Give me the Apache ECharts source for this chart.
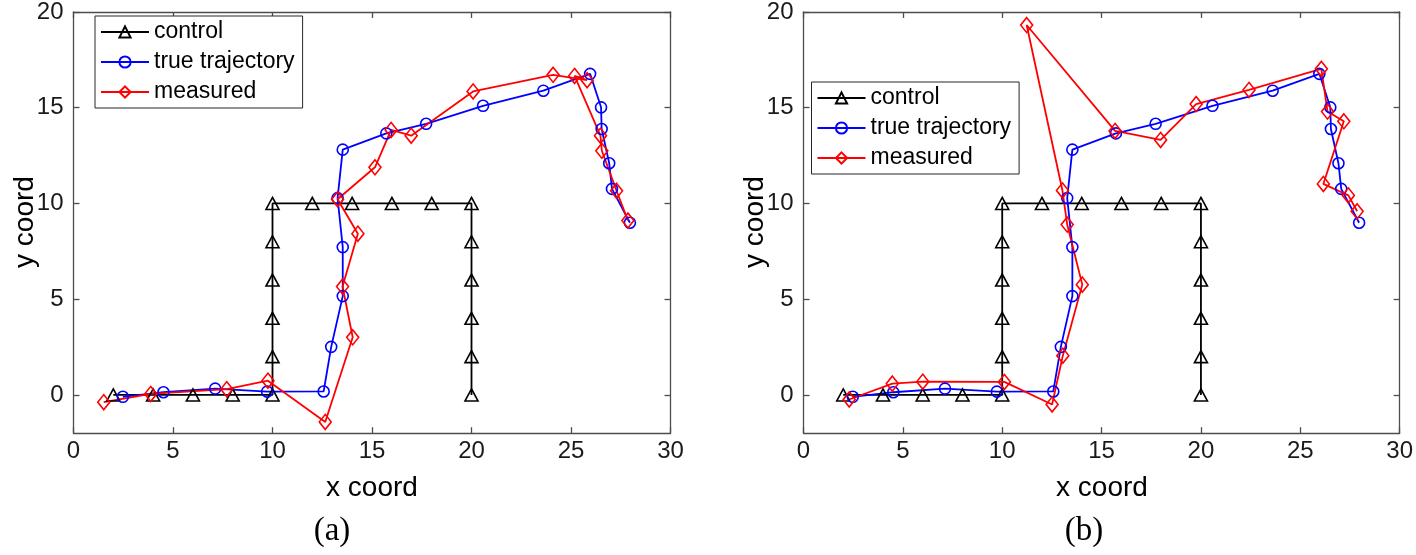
<!DOCTYPE html>
<html>
<head>
<meta charset="utf-8">
<style>
  html, body { margin: 0; padding: 0; background: #fff; }
  #chart { width: 1416px; height: 555px; }
</style>
<script src="https://cdn.jsdelivr.net/npm/echarts@6/dist/echarts.min.js"></script>
</head>
<body>
<div id="chart"></div>
<script>
// ---------------- data ----------------
const xTicks = [0, 5, 10, 15, 20, 25, 30];
const yTicks = [0, 5, 10, 15, 20];

const controlX = [2, 4, 6, 8, 10, 10, 10, 10, 10, 10, 12, 14, 16, 18, 20, 20, 20, 20, 20, 20];
const controlY = [0, 0, 0, 0, 0, 2, 4, 6, 8, 10, 10, 10, 10, 10, 10, 8, 6, 4, 2, 0];

const trueX = [2.48, 4.52, 7.12, 9.73, 12.57, 12.95, 13.53, 13.53, 13.27, 13.53,
               15.72, 17.72, 20.58, 23.61, 25.96, 26.51, 26.54, 26.92, 27.06, 27.96];
const trueY = [-0.10, 0.14, 0.33, 0.17, 0.18, 2.51, 5.16, 7.72, 10.28, 12.81,
               13.66, 14.16, 15.10, 15.89, 16.77, 15.02, 13.89, 12.10, 10.76, 8.99];

const measAX = [1.52, 3.88, 7.70, 9.77, 12.65, 14.03, 13.52, 14.29, 13.27, 15.15,
                15.96, 16.97, 20.08, 24.10, 25.81, 25.18, 26.48, 26.55, 27.29, 27.86];
const measAY = [-0.38, 0.05, 0.30, 0.74, -1.41, 3.01, 5.66, 8.42, 10.22, 11.89,
                13.84, 13.54, 15.85, 16.72, 16.44, 16.66, 13.54, 12.75, 10.66, 9.11];

const measBX = [2.30, 4.47, 6.00, 10.11, 12.51, 13.05, 14.03, 13.27, 13.03, 11.23,
                15.68, 17.97, 19.76, 22.42, 26.06, 26.37, 27.19, 26.16, 27.42, 27.86];
const measBY = [-0.24, 0.59, 0.69, 0.68, -0.50, 2.05, 5.76, 8.90, 10.68, 19.32,
                13.79, 13.32, 15.19, 15.93, 17.03, 14.80, 14.29, 11.02, 10.42, 9.59];

const subCaptions = ['(a)', '(b)'];
const xTitle = 'x coord';
const yTitle = 'y coord';

// ---------------- helpers ----------------
const zip = (xs, ys) => xs.map((x, i) => [x, ys[i]]);
const FONT = "'Liberation Sans', Arial, Helvetica, sans-serif";
const AXIS_COLOR = '#4d4d4d';
const LABEL_COLOR = '#1a1a1a';

const grids = [
  { left: 73.5, top: 10.7, width: 597, height: 422.5 },
  { left: 803.5, top: 10.7, width: 597, height: 422.5 }
];

function xAxisDef(gi, pos) {
  return {
    gridIndex: gi, type: 'value', position: pos, min: 0, max: 30, interval: 5,
    axisLine: { show: true, onZero: false, lineStyle: { color: AXIS_COLOR, width: 1.3 } },
    axisTick: { show: true, inside: true, length: 6, lineStyle: { color: AXIS_COLOR, width: 1.3 } },
    axisLabel: { show: pos === 'bottom', fontSize: 24, margin: 6, color: LABEL_COLOR, fontFamily: FONT },
    splitLine: { show: false }
  };
}
function yAxisDef(gi, pos) {
  return {
    gridIndex: gi, type: 'value', position: pos, min: -2, max: 20,
    axisLine: { show: true, onZero: false, lineStyle: { color: AXIS_COLOR, width: 1.3 } },
    axisTick: { show: true, inside: true, length: 6, customValues: yTicks, lineStyle: { color: AXIS_COLOR, width: 1.3 } },
    axisLabel: { show: pos === 'left', fontSize: 24, margin: 10, color: LABEL_COLOR, fontFamily: FONT, customValues: yTicks },
    splitLine: { show: false }
  };
}

function lineSeries(name, gi, data, color, symbol, size) {
  return {
    type: 'line', name: name, xAxisIndex: gi * 2, yAxisIndex: gi * 2,
    data: data, symbol: symbol, symbolSize: size, showSymbol: true, showAllSymbol: true,
    lineStyle: { color: color, width: 1.8 },
    itemStyle: { color: 'rgba(255,255,255,0)', borderColor: color, borderWidth: 1.6 },
    emphasis: { disabled: true }, clip: false, animation: false, z: 2
  };
}

const series = [];
const measured = [zip(measAX, measAY), zip(measBX, measBY)];
for (let gi = 0; gi < 2; gi++) {
  series.push(lineSeries('control', gi, zip(controlX, controlY), '#000000', 'triangle', [13, 12]));
  series.push(lineSeries('true trajectory', gi, zip(trueX, trueY), '#0000ff', 'circle', 11));
  series.push(lineSeries('measured', gi, measured[gi], '#ff0000', 'diamond', [12, 15]));
}

function legendDef(left, top) {
  return {
    data: ['control', 'true trajectory', 'measured'],
    orient: 'vertical', left: left, top: top,
    itemWidth: 48, itemHeight: 14, itemGap: 6,
    padding: [4, 8, 4, 5],
    borderColor: '#262626', borderWidth: 1, backgroundColor: '#ffffff',
    textStyle: { fontSize: 23, fontFamily: FONT, color: '#000', lineHeight: 24 },
    selectedMode: false
  };
}

function text(x, y, str, size, family, rot) {
  return {
    type: 'text', x: x, y: y, rotation: rot || 0,
    style: { text: str, fontSize: size, fontFamily: family, fill: '#000', textAlign: 'center', textVerticalAlign: 'middle' },
    silent: true
  };
}

const option = {
  animation: false,
  backgroundColor: '#ffffff',
  grid: grids,
  xAxis: [xAxisDef(0, 'bottom'), xAxisDef(0, 'top'), xAxisDef(1, 'bottom'), xAxisDef(1, 'top')],
  yAxis: [yAxisDef(0, 'left'), yAxisDef(0, 'right'), yAxisDef(1, 'left'), yAxisDef(1, 'right')],
  legend: [legendDef(95, 16), legendDef(811.5, 82)],
  series: series,
  graphic: [
    text(372, 488, xTitle, 28, FONT),
    text(1102, 488, xTitle, 28, FONT),
    text(25, 222, yTitle, 28, FONT, Math.PI / 2),
    text(755, 222, yTitle, 28, FONT, Math.PI / 2),
    text(332, 531, subCaptions[0], 33, "'Liberation Serif', 'DejaVu Serif', serif"),
    text(1084, 531, subCaptions[1], 33, "'Liberation Serif', 'DejaVu Serif', serif")
  ]
};

const chart = echarts.init(document.getElementById('chart'), null, { renderer: 'canvas' });
chart.setOption(option);
</script>
</body>
</html>
